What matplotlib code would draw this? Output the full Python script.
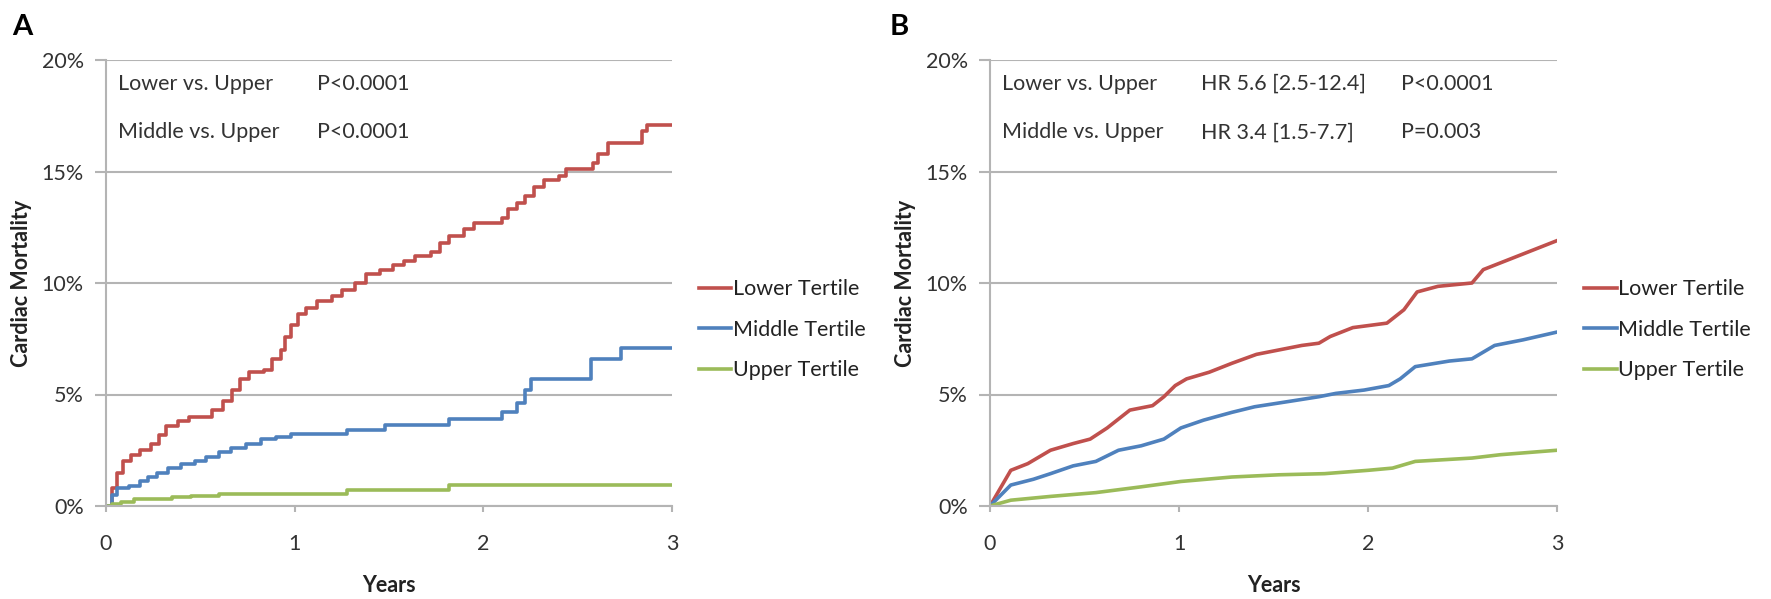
import matplotlib
matplotlib.use('Agg')
import matplotlib.pyplot as plt

plt.rcParams['font.family'] = ['Lato', 'DejaVu Sans']

# axis ticks / labels
year_ticks = [0, 1, 2, 3]
pct_ticks = [0, 5, 10, 15, 20]
pct_labels = ['0%', '5%', '10%', '15%', '20%']
series_names = ['Lower Tertile', 'Middle Tertile', 'Upper Tertile']
series_colors = ['#C0504D', '#4F81BD', '#9BBB59']

# panel A (step curves), years / cumulative %
a_lower_t = [0, 0.03, 0.06, 0.09, 0.13, 0.18, 0.24, 0.28, 0.32, 0.38, 0.44, 0.56, 0.62,
             0.67, 0.71, 0.76, 0.84, 0.88, 0.93, 0.95, 0.98, 1.02, 1.06, 1.12, 1.20, 1.25,
             1.32, 1.38, 1.45, 1.52, 1.58, 1.64, 1.72, 1.77, 1.82, 1.90, 1.95, 2.10, 2.13,
             2.18, 2.22, 2.27, 2.32, 2.40, 2.44, 2.58, 2.61, 2.66, 2.84, 2.87, 3.0]
a_lower_y = [0, 0.8, 1.5, 2.0, 2.3, 2.5, 2.8, 3.2, 3.6, 3.8, 4.0, 4.3, 4.7,
             5.2, 5.7, 6.0, 6.1, 6.6, 7.0, 7.6, 8.1, 8.6, 8.9, 9.2, 9.4, 9.7,
             10.0, 10.4, 10.6, 10.8, 11.0, 11.2, 11.4, 11.8, 12.1, 12.4, 12.7, 12.9, 13.3,
             13.6, 13.9, 14.3, 14.6, 14.8, 15.1, 15.4, 15.8, 16.3, 16.8, 17.1, 17.1]
a_middle_t = [0, 0.03, 0.06, 0.12, 0.18, 0.22, 0.27, 0.33, 0.40, 0.47, 0.53, 0.60, 0.66,
              0.74, 0.82, 0.90, 0.98, 1.28, 1.48, 1.82, 2.10, 2.18, 2.22, 2.25, 2.57, 2.73, 3.0]
a_middle_y = [0, 0.5, 0.8, 0.9, 1.1, 1.3, 1.5, 1.7, 1.9, 2.0, 2.2, 2.4, 2.6,
              2.8, 3.0, 3.1, 3.25, 3.4, 3.65, 3.9, 4.2, 4.6, 5.2, 5.7, 6.6, 7.1, 7.1]
a_upper_t = [0, 0.03, 0.08, 0.15, 0.35, 0.45, 0.60, 1.28, 1.82, 3.0]
a_upper_y = [0, 0.1, 0.2, 0.3, 0.4, 0.45, 0.55, 0.7, 0.95, 0.95]

# panel B (adjusted curves)
b_lower_t = [0, 0.11, 0.20, 0.32, 0.44, 0.53, 0.62, 0.74, 0.86, 0.92, 0.98, 1.04, 1.16,
             1.28, 1.41, 1.53, 1.65, 1.74, 1.80, 1.92, 2.10, 2.19, 2.26, 2.37, 2.55, 2.61,
             2.73, 2.85, 3.0]
b_lower_y = [0, 1.6, 1.9, 2.5, 2.8, 3.0, 3.5, 4.3, 4.5, 4.9, 5.4, 5.7, 6.0,
             6.4, 6.8, 7.0, 7.2, 7.3, 7.6, 8.0, 8.2, 8.8, 9.6, 9.85, 10.0, 10.6,
             11.0, 11.4, 11.9]
b_middle_t = [0, 0.11, 0.23, 0.32, 0.44, 0.56, 0.68, 0.80, 0.92, 1.01, 1.13, 1.28, 1.40,
              1.59, 1.74, 1.83, 1.98, 2.11, 2.17, 2.25, 2.43, 2.55, 2.67, 2.82, 3.0]
b_middle_y = [0, 0.94, 1.2, 1.45, 1.8, 2.0, 2.5, 2.7, 3.0, 3.5, 3.85, 4.2, 4.45,
              4.7, 4.9, 5.05, 5.2, 5.4, 5.7, 6.25, 6.5, 6.6, 7.2, 7.45, 7.8]
b_upper_t = [0, 0.11, 0.32, 0.56, 0.80, 1.01, 1.28, 1.53, 1.77, 2.0, 2.13, 2.25, 2.55, 2.70, 3.0]
b_upper_y = [0, 0.26, 0.43, 0.6, 0.86, 1.1, 1.3, 1.4, 1.45, 1.6, 1.7, 2.0, 2.15, 2.3, 2.5]

# comparison text
a_rows = [['Lower vs. Upper', 'P<0.0001'],
          ['Middle vs. Upper', 'P<0.0001']]
b_rows = [['Lower vs. Upper', 'HR 5.6 [2.5-12.4]', 'P<0.0001'],
          ['Middle vs. Upper', 'HR 3.4 [1.5-7.7]', 'P=0.003']]

grid_col = '#b4b4b4'
fs = 15.5

fig = plt.figure(figsize=(17.71, 5.99), dpi=100)
axA = fig.add_axes([106/1771, 93/599, 566/1771, 446/599])
axB = fig.add_axes([990/1771, 93/599, 567/1771, 446/599])


def style(ax):
    ax.set_xlim(0, 3)
    ax.set_ylim(0, 20)
    ax.set_xticks(year_ticks)
    ax.set_yticks(pct_ticks)
    ax.set_yticklabels(pct_labels)
    for s in ['top', 'right']:
        ax.spines[s].set_visible(False)
    for s in ['left', 'bottom']:
        ax.spines[s].set_color(grid_col)
        ax.spines[s].set_linewidth(1.5)
    ax.yaxis.grid(True, color=grid_col, lw=1.5)
    ax.set_axisbelow(True)
    ax.tick_params(axis='y', length=8, width=1.5, color=grid_col, pad=8,
                   labelsize=fs, labelcolor='#333333')
    ax.tick_params(axis='x', length=4, width=1.5, color=grid_col, pad=16,
                   labelsize=fs, labelcolor='#333333')
    ax.set_ylabel('Cardiac Mortality', fontsize=fs, fontweight='bold', color='#222222')
    ax.yaxis.set_label_coords(-0.13, 0.5)
    ax.set_xlabel('Years', fontsize=fs, fontweight='bold', color='#222222')
    ax.xaxis.set_label_coords(0.5, -0.155)
    ax.legend(loc='center left', bbox_to_anchor=(1.048, 0.395), frameon=False,
              fontsize=fs, handlelength=1.5, handletextpad=0.05, borderpad=0,
              borderaxespad=0, labelspacing=0.95, labelcolor='#222222')


for t, y, name, c in zip([a_lower_t, a_middle_t, a_upper_t],
                         [a_lower_y, a_middle_y, a_upper_y], series_names, series_colors):
    axA.plot(t, y, drawstyle='steps-post', color=c, lw=2.6, label=name)

for t, y, name, c in zip([b_lower_t, b_middle_t, b_upper_t],
                         [b_lower_y, b_middle_y, b_upper_y], series_names, series_colors):
    axB.plot(t, y, color=c, lw=2.6, label=name)

style(axA)
style(axB)

row_y = [0.946, 0.838]
for i, row in enumerate(a_rows):
    for x, s in zip([0.021, 0.373], row):
        axA.text(x, row_y[i], s, transform=axA.transAxes, fontsize=fs,
                 va='center', ha='left', color='#333333')
for i, row in enumerate(b_rows):
    for x, s in zip([0.021, 0.373, 0.724], row):
        axB.text(x, row_y[i], s, transform=axB.transAxes, fontsize=fs,
                 va='center', ha='left', color='#333333')

fig.text(12/1771, 1 - 14/599, 'A', fontsize=21, fontweight='bold', va='top', ha='left')
fig.text(890/1771, 1 - 14/599, 'B', fontsize=21, fontweight='bold', va='top', ha='left')

fig.savefig('out.png', dpi=100)
